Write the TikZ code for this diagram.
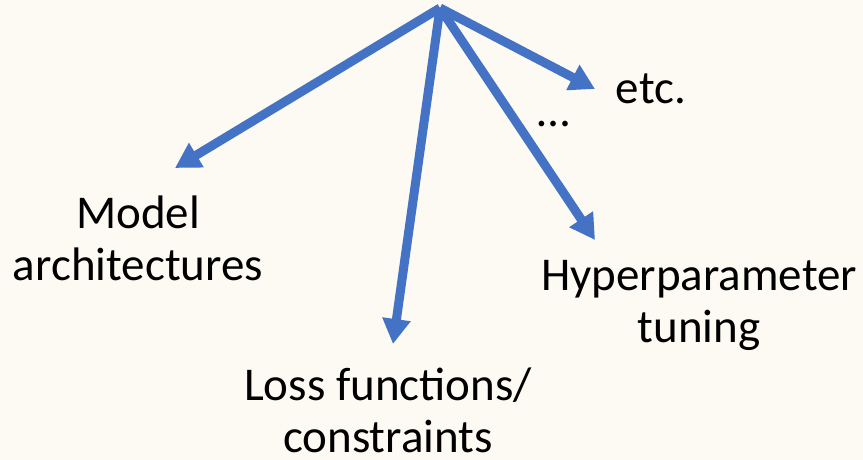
\documentclass[tikz,border=0pt]{standalone}
\usepackage{fontspec}
\setmainfont{Carlito}
\usetikzlibrary{arrows.meta}
\definecolor{paper}{HTML}{FDFAF4}
\definecolor{arrowblue}{HTML}{4472C4}
\begin{document}
\begin{tikzpicture}[x=1pt,y=-1pt,
  branch/.style={draw=arrowblue,line width=9pt,
    -{Triangle[length=25pt,width=27pt]}},
  label/.style={font=\fontsize{47}{52}\selectfont,align=center,
    inner sep=0pt,anchor=base}]
  % canvas
  \fill[paper] (0,0) rectangle (863,460);
  \useasboundingbox (0,0) rectangle (863,460);
  % root of the fan and the arrow tips
  \coordinate (root) at (440,8);
  \coordinate (tipA) at (175,168);
  \coordinate (tipL) at (393,344);
  \coordinate (tipH) at (595,240);
  \coordinate (tipE) at (595,89);
  % labels (anchored at the baseline of their last line)
  \node[label] (arch) at (138,280) {Model\\architectures};
  \node[label] (loss) at (388,452) {Loss functions/\\constraints};
  \node[label] (hyper) at (699,342) {Hyperparameter\\tuning};
  \node[label] (etc) at (651,103) {etc.};
  \node[label] (dots) at (554,127) {\ldots};
  % arrows
  \draw[branch] (root) -- (tipA);
  \draw[branch] (root) -- (tipL);
  \draw[branch] (root) -- (tipH);
  \draw[branch] (root) -- (tipE);
\end{tikzpicture}
\end{document}
